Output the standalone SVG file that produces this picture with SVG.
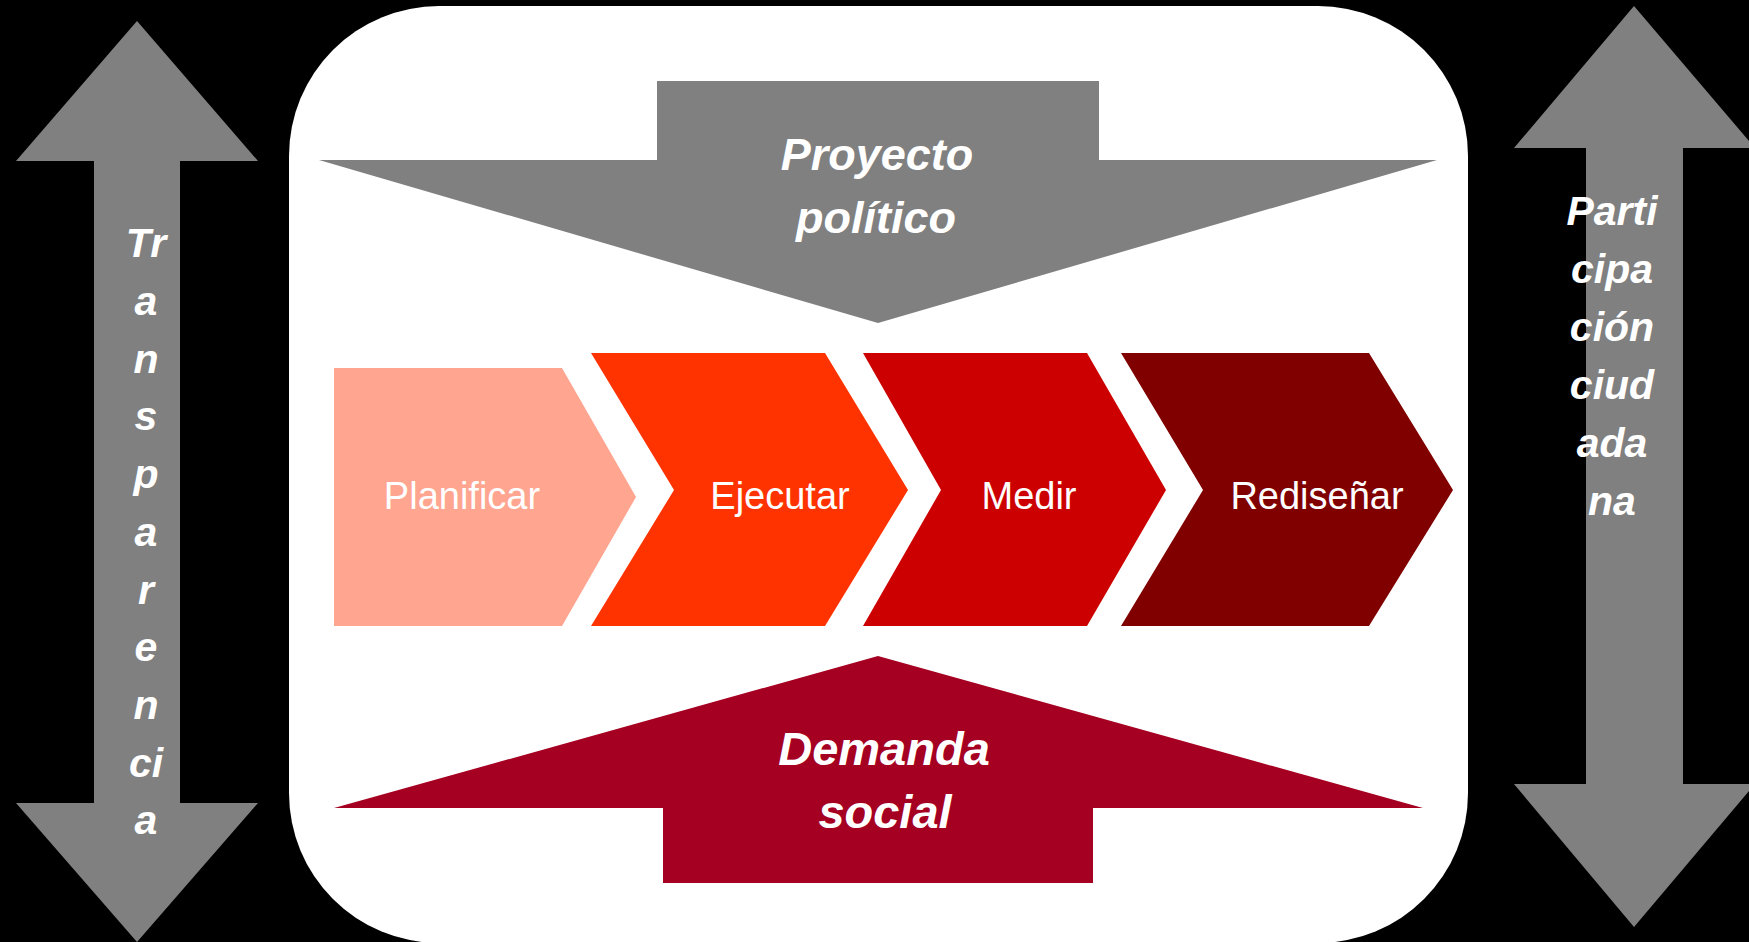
<svg xmlns="http://www.w3.org/2000/svg" width="1749" height="942" viewBox="0 0 1749 942">
<style>
.gray{fill:#808080}
.lbl{font-family:"Liberation Sans",Arial,sans-serif;font-weight:bold;font-style:italic;fill:#ffffff;text-anchor:middle}
.step{font-family:"Liberation Sans",Arial,sans-serif;font-size:38px;fill:#ffffff;text-anchor:middle}
</style>
<rect x="0" y="0" width="1749" height="942" fill="#000000"/>
<rect id="panel" x="289" y="6" width="1179" height="937" rx="150" ry="150" fill="#ffffff"/>
<g id="transparencia">
<polygon class="gray" points="137,21 258,161 180,161 180,803 258,803 137,942 16,803 94,803 94,161 16,161"/>
<text class="lbl" font-size="41" x="146"><tspan x="146" y="257">Tr</tspan><tspan x="146" y="315">a</tspan><tspan x="146" y="373">n</tspan><tspan x="146" y="430">s</tspan><tspan x="146" y="488">p</tspan><tspan x="146" y="546">a</tspan><tspan x="146" y="604">r</tspan><tspan x="146" y="661">e</tspan><tspan x="146" y="719">n</tspan><tspan x="146" y="777">ci</tspan><tspan x="146" y="834">a</tspan></text>
</g>
<g id="participacion">
<polygon class="gray" points="1634,6 1755,148 1683,148 1683,784 1755,784 1634,927 1514,784 1586,784 1586,148 1514,148"/>
<text class="lbl" font-size="41" x="1612"><tspan x="1612" y="225">Parti</tspan><tspan x="1612" y="283">cipa</tspan><tspan x="1612" y="341">ción</tspan><tspan x="1612" y="399">ciud</tspan><tspan x="1612" y="457">ada</tspan><tspan x="1612" y="515">na</tspan></text>
</g>
<g id="proyecto">
<polygon class="gray" points="657,81 1099,81 1099,160 1437,160 878,323 319,160 657,160"/>
<text class="lbl" font-size="45"><tspan x="877" y="170">Proyecto</tspan><tspan x="876" y="233">político</tspan></text>
</g>
<g id="planificar">
<polygon fill="#FFA590" points="334,368 562,368 636,497 562,626 334,626"/>
<text class="step" x="462" y="509">Planificar</text>
</g>
<g id="ejecutar">
<polygon fill="#FF3300" points="591,353 825,353 908,490 825,626 591,626 674,490"/>
<text class="step" x="780" y="509">Ejecutar</text>
</g>
<g id="medir">
<polygon fill="#CC0000" points="863,353 1087,353 1166,490 1087,626 863,626 941,490"/>
<text class="step" x="1029" y="509">Medir</text>
</g>
<g id="redisenar">
<polygon fill="#800000" points="1121,353 1369,353 1453,490 1369,626 1121,626 1203,490"/>
<text class="step" x="1317" y="509">Rediseñar</text>
</g>
<g id="demanda">
<polygon fill="#A50021" points="878,656 1423,808 1093,808 1093,883 663,883 663,808 334,808"/>
<text class="lbl" font-size="47"><tspan x="884" y="765">Demanda</tspan><tspan x="885" y="828">social</tspan></text>
</g>
<g id="connectors"/>
</svg>
